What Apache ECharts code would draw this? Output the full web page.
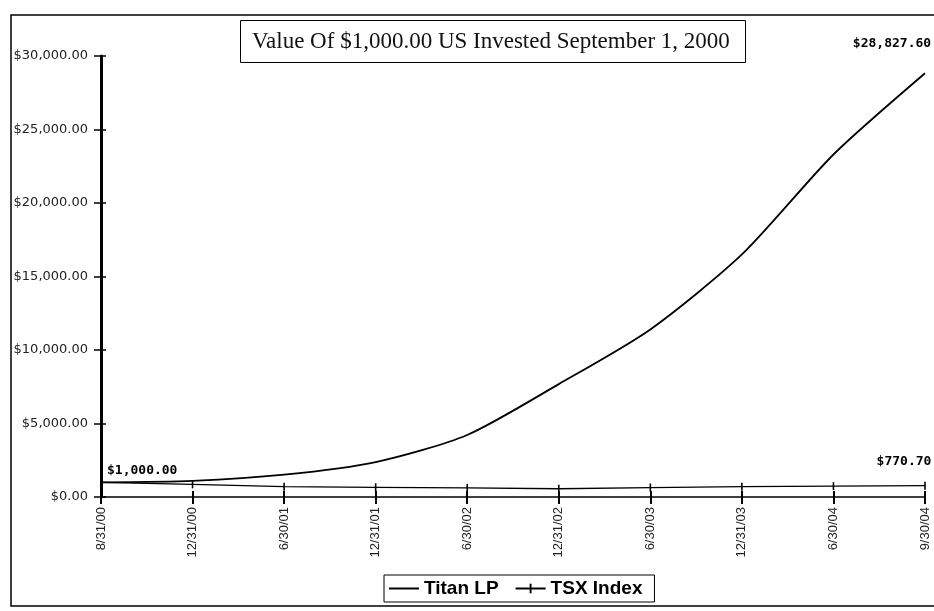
<!DOCTYPE html>
<html>
<head>
<meta charset="utf-8">
<script src="https://cdn.jsdelivr.net/npm/echarts@6/dist/echarts.min.js"></script>
<style>
  html, body { margin: 0; padding: 0; background: #fff; }
  #chart { width: 934px; height: 611px; }
</style>
</head>
<body>
<div id="chart"></div>
<script>
// categories (dates) and values
const categories = ['8/31/00', '12/31/00', '6/30/01', '12/31/01', '6/30/02', '12/31/02', '6/30/03', '12/31/03', '6/30/04', '9/30/04'];
const titanLP = [1000, 1100, 1520, 2380, 4220, 7680, 11400, 16500, 23300, 28827.60];
const tsxIndex = [1000, 860, 700, 660, 620, 560, 640, 700, 740, 770.70];
const yMin = 0;
const yMax = 30000;
const yStep = 5000;

function money(v) {
  return '$' + Number(v).toLocaleString('en-US', { minimumFractionDigits: 2, maximumFractionDigits: 2 });
}

const chart = echarts.init(document.getElementById('chart'));

const annotFont = {
  fontFamily: 'DejaVu Sans Mono',
  fontWeight: 'bold',
  fontSize: 13,
  color: '#000'
};

// thin vertical tick used as the TSX marker (the M points fix the box size)
const tickSymbol = 'path://M0,0M10,10M4,0h2v10h-2z';

chart.setOption({
  backgroundColor: '#fff',
  animation: false,
  title: {
    text: 'Value Of $1,000.00 US Invested September 1, 2000',
    left: 240,
    top: 20,
    padding: [10, 16, 10, 12],
    borderColor: '#000',
    borderWidth: 1,
    textStyle: {
      fontFamily: 'Liberation Serif',
      fontWeight: 'normal',
      fontSize: 23,
      color: '#111'
    }
  },
  legend: {
    left: 384,
    top: 575,
    padding: [4, 12, 4, 4],
    borderColor: '#000',
    borderWidth: 1,
    itemGap: 16,
    itemWidth: 30,
    itemHeight: 12,
    textStyle: {
      fontFamily: 'Liberation Sans',
      fontWeight: 'bold',
      fontSize: 19,
      color: '#000'
    },
    data: [
      { name: 'Titan LP', itemStyle: { opacity: 0 } },
      { name: 'TSX Index' }
    ]
  },
  graphic: [{
    type: 'rect',
    shape: { x: 11, y: 15, width: 960, height: 591 },
    style: { fill: 'none', stroke: '#000', lineWidth: 1.5 },
    silent: true
  }],
  grid: {
    left: 101,
    right: 9,
    top: 56,
    bottom: 114
  },
  xAxis: [{
    type: 'category',
    data: categories,
    boundaryGap: false,
    axisLine: { lineStyle: { color: '#000', width: 1.5 } },
    axisTick: { show: true, length: 7, lineStyle: { color: '#000', width: 2 } },
    axisLabel: {
      rotate: 90,
      margin: 10,
      fontFamily: 'Liberation Sans',
      fontSize: 13,
      color: '#222'
    },
    splitLine: { show: false }
  }, {
    type: 'category',
    data: categories,
    position: 'bottom',
    boundaryGap: false,
    axisLine: { show: false },
    axisTick: { show: true, inside: true, length: 6, lineStyle: { color: '#000', width: 2 } },
    axisLabel: { show: false },
    splitLine: { show: false }
  }],
  yAxis: [{
    type: 'value',
    min: yMin,
    max: yMax,
    interval: yStep,
    axisLine: { show: true, lineStyle: { color: '#000', width: 3 } },
    axisTick: { show: true, length: 7, lineStyle: { color: '#000', width: 1.5 } },
    axisLabel: {
      margin: 13,
      fontFamily: 'DejaVu Sans',
      fontSize: 13,
      color: '#222',
      formatter: money
    },
    splitLine: { show: false }
  }, {
    type: 'value',
    position: 'left',
    min: yMin,
    max: yMax,
    interval: yStep,
    axisLine: { show: false },
    axisTick: { show: true, inside: true, length: 5, lineStyle: { color: '#000', width: 1.5 } },
    axisLabel: { show: false },
    splitLine: { show: false }
  }],
  series: [{
    name: 'Titan LP',
    type: 'line',
    data: titanLP,
    smooth: 0.25,
    symbol: 'none',
    lineStyle: { color: '#000', width: 1.8 },
    itemStyle: { color: '#000' },
    markPoint: {
      symbol: 'circle',
      symbolSize: 0,
      data: [{
        coord: [categories[0], titanLP[0]],
        value: titanLP[0],
        label: { position: 'right', distance: 6, offset: [0, -12] }
      }, {
        coord: [categories[categories.length - 1], titanLP[titanLP.length - 1]],
        value: titanLP[titanLP.length - 1],
        label: { position: 'top', distance: 23, offset: [-33, 0] }
      }],
      label: Object.assign({ show: true, formatter: p => money(p.value) }, annotFont)
    }
  }, {
    name: 'TSX Index',
    type: 'line',
    data: tsxIndex,
    symbol: tickSymbol,
    symbolSize: 8,
    lineStyle: { color: '#000', width: 1.3 },
    itemStyle: { color: '#000' },
    markPoint: {
      symbol: 'circle',
      symbolSize: 0,
      data: [{
        coord: [categories[categories.length - 1], tsxIndex[tsxIndex.length - 1]],
        value: tsxIndex[tsxIndex.length - 1],
        label: { position: 'top', distance: 18, offset: [-21, 0] }
      }],
      label: Object.assign({ show: true, formatter: p => money(p.value) }, annotFont)
    }
  }]
});
</script>
</body>
</html>
